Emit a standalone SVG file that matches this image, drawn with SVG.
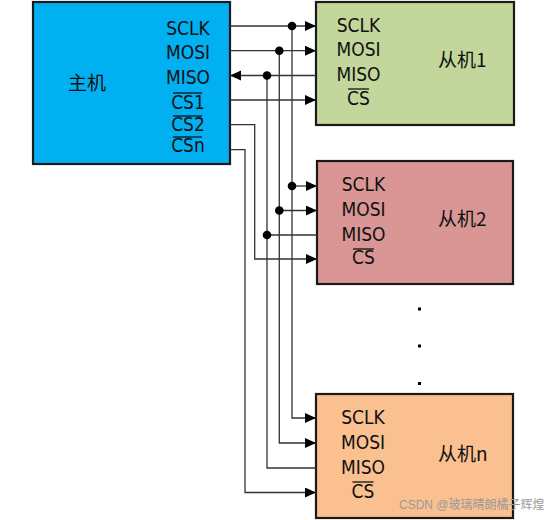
<svg xmlns="http://www.w3.org/2000/svg" width="554" height="520" viewBox="0 0 554 520">
<style>
.box{stroke:#1a1a1a;stroke-width:2.2}
.lbl{font-family:"Liberation Sans Narrow","DejaVu Sans Condensed","Noto Sans CJK SC",sans-serif;font-size:19px;fill:#111;text-anchor:middle}
.cn{font-family:"Liberation Sans Narrow","Noto Sans CJK SC",sans-serif;font-size:19px;fill:#111}
.ol{stroke:#111;stroke-width:1.3}
.w{fill:none;stroke:#333;stroke-width:1.3}
.dot{fill:#000}
.wm{font-family:"Liberation Sans","Noto Sans CJK SC",sans-serif;font-size:12px;fill:#9a9a9a}
</style>
<defs>
<marker id="arr" markerUnits="userSpaceOnUse" markerWidth="12" markerHeight="11" refX="11" refY="5" orient="auto">
<path d="M0,0 L11,5 L0,10 Z" fill="#000"/>
</marker>
</defs>
<rect width="554" height="520" fill="#fff"/>

<g id="master">
<rect class="box" x="33" y="2" width="197" height="162" fill="#00b0f0"/>
<text class="cn" x="68" y="90">主机</text>
<text class="lbl" x="188" y="35">SCLK</text>
<text class="lbl" x="188" y="59">MOSI</text>
<text class="lbl" x="188" y="84">MISO</text>
<text class="lbl" x="188" y="109">CS1</text>
<line class="ol" x1="173" y1="93" x2="202" y2="93"/>
<text class="lbl" x="188" y="131">CS2</text>
<line class="ol" x1="173" y1="116" x2="202" y2="116"/>
<text class="lbl" x="188" y="152">CSn</text>
<line class="ol" x1="173" y1="137" x2="202" y2="137"/>
</g>

<g id="slave1">
<rect class="box" x="316" y="2" width="198" height="123" fill="#c3d69b"/>
<text class="lbl" x="358.5" y="32">SCLK</text>
<text class="lbl" x="358.5" y="56">MOSI</text>
<text class="lbl" x="358.5" y="81">MISO</text>
<text class="lbl" x="358.5" y="105">CS</text>
<line class="ol" x1="348" y1="89" x2="369" y2="89"/>
<text class="cn" x="438" y="67">从机1</text>
</g>

<g id="slave2">
<rect class="box" x="317" y="161" width="196" height="123" fill="#d99694"/>
<text class="lbl" x="363.5" y="191">SCLK</text>
<text class="lbl" x="363.5" y="216">MOSI</text>
<text class="lbl" x="363.5" y="241">MISO</text>
<text class="lbl" x="363.5" y="264">CS</text>
<line class="ol" x1="353" y1="249" x2="374" y2="249"/>
<text class="cn" x="438" y="226">从机2</text>
</g>

<g id="slaven">
<rect class="box" x="316" y="394" width="197" height="124" fill="#fac090"/>
<text class="lbl" x="363" y="424">SCLK</text>
<text class="lbl" x="363" y="449">MOSI</text>
<text class="lbl" x="363" y="474">MISO</text>
<text class="lbl" x="363" y="498">CS</text>
<line class="ol" x1="352.5" y1="482" x2="373.5" y2="482"/>
<text class="cn" x="438" y="461">从机n</text>
</g>

<g id="ellipsis" fill="#000">
<rect x="418" y="307.5" width="3" height="3"/>
<rect x="418" y="344.5" width="3" height="3"/>
<rect x="418" y="382" width="3" height="3"/>
</g>

<g id="connectors">
<line class="w" x1="230" y1="26" x2="316" y2="26" marker-end="url(#arr)"/>
<line class="w" x1="230" y1="50.7" x2="316" y2="50.7" marker-end="url(#arr)"/>
<line class="w" x1="316" y1="75.5" x2="230" y2="75.5" marker-end="url(#arr)"/>
<line class="w" x1="230" y1="100" x2="316" y2="100" marker-end="url(#arr)"/>
<polyline class="w" points="292,26 292,418 316,418" marker-end="url(#arr)"/>
<polyline class="w" points="279.3,50.7 279.3,443 316,443" marker-end="url(#arr)"/>
<polyline class="w" points="267,75.5 267,468 316,468"/>
<polyline class="w" points="230,124.7 254.7,124.7 254.7,259 317,259" marker-end="url(#arr)"/>
<polyline class="w" points="230,149.7 245,149.7 245,492.5 316,492.5" marker-end="url(#arr)"/>
<line class="w" x1="292" y1="186" x2="317" y2="186" marker-end="url(#arr)"/>
<line class="w" x1="279.3" y1="210.5" x2="317" y2="210.5" marker-end="url(#arr)"/>
<line class="w" x1="267" y1="235" x2="317" y2="235"/>
<circle class="dot" cx="292" cy="26" r="4.3"/>
<circle class="dot" cx="279.3" cy="50.7" r="4.3"/>
<circle class="dot" cx="267" cy="75.5" r="4.3"/>
<circle class="dot" cx="292" cy="186" r="4.3"/>
<circle class="dot" cx="279.3" cy="210.5" r="4.3"/>
<circle class="dot" cx="267" cy="235" r="4.3"/>
</g>

<text class="wm" x="399" y="509">CSDN @玻璃晴朗橘子辉煌</text>
</svg>
